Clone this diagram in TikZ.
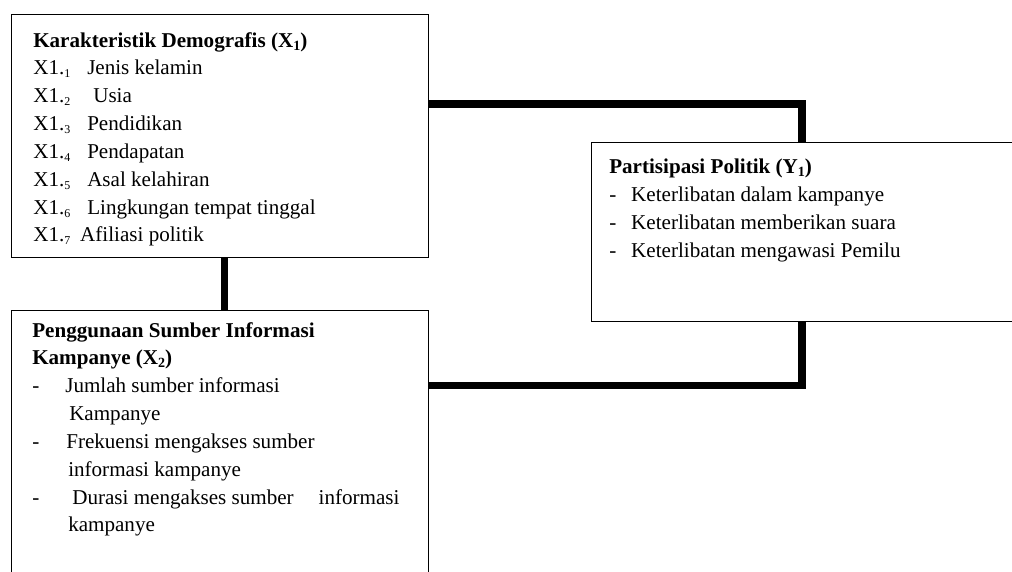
\documentclass[tikz,border=0pt]{standalone}
\usepackage{fontspec}
\setmainfont{Liberation Serif}
\usetikzlibrary{positioning}
\newcommand\lowidx[1]{\raisebox{-0.3ex}{\fontsize{8.5}{8.5}\selectfont #1}}
\newcommand\titleidx[1]{\raisebox{-0.3ex}{\fontsize{10}{10}\selectfont #1}}

\begin{document}
\begin{tikzpicture}[
node distance=1.3cm,
box/.style={rectangle, draw=black, line width=0.8pt, inner sep=0pt, minimum width=10.425cm},
txt/.style={anchor=north west, align=left, inner sep=0pt, font=\fontsize{15}{19.8}\selectfont},
line/.style={line width=5pt}
]
\clip (0,0) rectangle (25.3,-14.275);
\node[box, minimum height=6.075cm, anchor=north west] (demo) at (0.275,-0.35) {};
\node[box, minimum height=8cm, below=of demo] (info) {};
\node[box, minimum width=11.25cm, minimum height=4.475cm, anchor=north west] (parti) at (14.775,-3.55) {};

\node[txt] (demotxt) at (0.825,-0.8) {\textbf{Karakteristik Demografis (X\titleidx{1})}\\
\makebox[38.4pt][l]{X1.\lowidx{1}}Jenis kelamin\\
\makebox[42.7pt][l]{X1.\lowidx{2}}Usia\\
\makebox[38.4pt][l]{X1.\lowidx{3}}Pendidikan\\
\makebox[38.4pt][l]{X1.\lowidx{4}}Pendapatan\\
\makebox[38.4pt][l]{X1.\lowidx{5}}Asal kelahiran\\
\makebox[38.4pt][l]{X1.\lowidx{6}}Lingkungan tempat tinggal\\
\makebox[33.4pt][l]{X1.\lowidx{7}}Afiliasi politik};

\node[txt] (infotxt) at (0.8,-8.05) {\textbf{Penggunaan Sumber Informasi}\\
\textbf{Kampanye (X\titleidx{2})}\\
\makebox[23.5pt][l]{-}Jumlah sumber informasi\\
\hspace*{26.3pt}Kampanye\\
\makebox[24.2pt][l]{-}Frekuensi mengakses sumber\\
\hspace*{25.6pt}informasi kampanye\\
\makebox[28.5pt][l]{-}Durasi mengakses sumber\hspace{14pt} informasi\\
\hspace*{25.6pt}kampanye};

\node[txt] (partitxt) at (15.225,-3.975) {\textbf{Partisipasi Politik (Y\titleidx{1})}\\
\makebox[15.6pt][l]{-}Keterlibatan dalam kampanye\\
\makebox[15.6pt][l]{-}Keterlibatan memberikan suara\\
\makebox[15.6pt][l]{-}Keterlibatan mengawasi Pemilu};

\draw[line] ([yshift=-2.25cm]demo.north east) -| ([xshift=5.275cm]parti.north west);
\draw[line] ([yshift=-1.875cm]info.north east) -| ([xshift=5.275cm]parti.south west);
\draw[line] ([xshift=0.11cm]demo.south) -- ([xshift=0.11cm]info.north);
\end{tikzpicture}
\end{document}
